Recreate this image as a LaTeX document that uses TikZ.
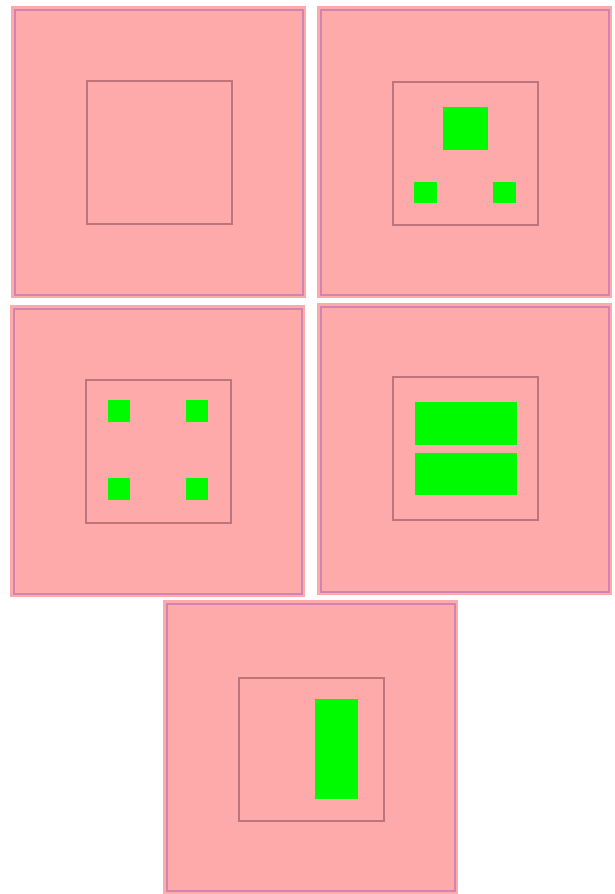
\documentclass[tikz,border=0pt]{standalone}
\usepackage{xcolor}
\definecolor{feldrosa}{RGB}{255,170,170}
\definecolor{feldrand}{RGB}{208,132,178}
\definecolor{boxrand}{RGB}{190,116,122}
\definecolor{teilgruen}{RGB}{0,250,0}

\begin{document}
\begin{tikzpicture}[x=1pt, y=-1pt,
		feld/.style={fill=feldrosa},
		rand/.style={draw=feldrand, line width=2pt},
		innen/.style={draw=boxrand, line width=1.4pt},
		teil/.style={fill=teilgruen}]
		% Bildbereich
		\useasboundingbox (0,0) rectangle (614,894);
		% Felder mit innerem Rahmen zeichnen (x/y/Hoehe/Abstand innen)
		\foreach \x/\y/\h/\a in {11/6/292/75, 317/6/292/76, 10/305/292/75, 317/303/292/74, 163/600/294/78} {
			\fill[feld] (\x,\y) rectangle ++(295,\h);
			\draw[rand] (\x+3.5,\y+3.5) rectangle ++(288,\h-7);
			\draw[innen] (\x+76,\y+\a) rectangle ++(145,143);
		}
		% Feld 2: ein grosses, zwei kleine Teile
		\fill[teil] (443,107) rectangle (488,150);
		\fill[teil] (414,182) rectangle (437,203);
		\fill[teil] (493,182) rectangle (516,203);
		% Feld 3: vier kleine Teile
		\foreach \x in {108,186} \foreach \y in {400,478} \fill[teil] (\x,\y) rectangle ++(22,22);
		% Feld 4: zwei Balken
		\fill[teil] (415,402) rectangle (517,445);
		\fill[teil] (415,453) rectangle (517,495);
		% Feld 5: ein stehender Balken
		\fill[teil] (315,699) rectangle (358,799);
	\end{tikzpicture}
\end{document}
